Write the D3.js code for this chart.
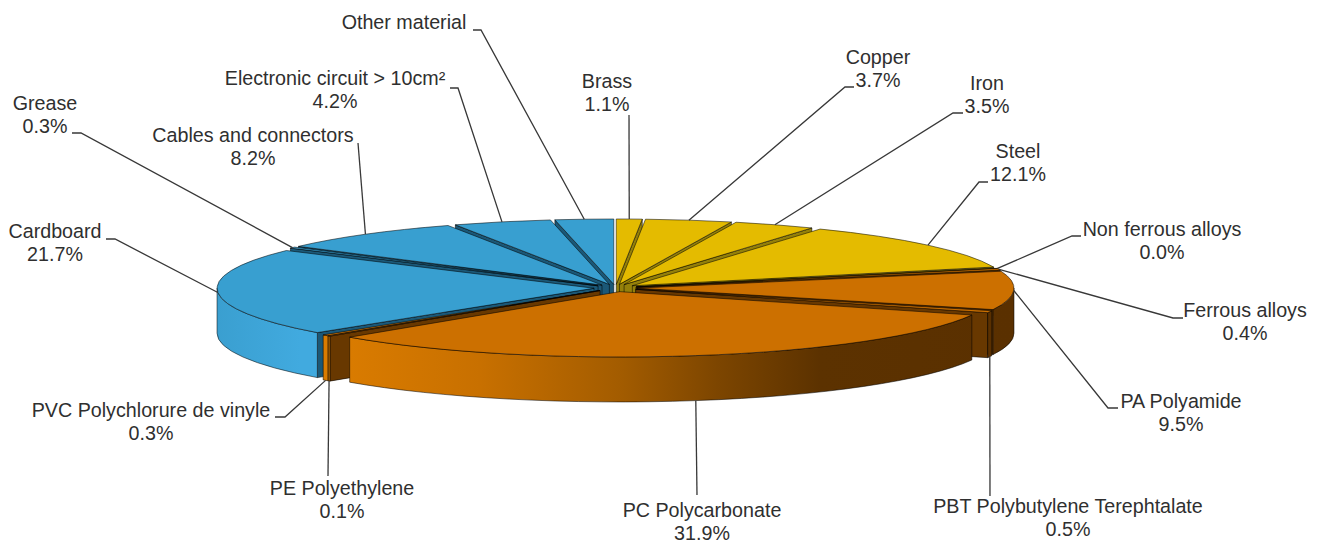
<!DOCTYPE html>
<html>
<head>
<meta charset="utf-8">
<script src="https://d3js.org/d3.v7.min.js"></script>
<style>
  html, body { margin: 0; padding: 0; background: #fff; }
  svg { display: block; }
  text { font-family: "Liberation Sans", Arial, sans-serif; font-size: 19.7px; fill: #2f2f2f; text-anchor: middle; }
</style>
</head>
<body>
<script>
// data, clockwise from 12 o'clock
var categories = ["Brass", "Copper", "Iron", "Steel", "Non ferrous alloys", "Ferrous alloys",
  "PA Polyamide", "PBT Polybutylene Terephtalate", "PC Polycarbonate", "PE Polyethylene",
  "PVC Polychlorure de vinyle", "Cardboard", "Grease", "Cables and connectors",
  "Electronic circuit > 10cm²", "Other material"];
var values = [1.1, 3.7, 3.5, 12.1, 0.04, 0.4, 9.5, 0.5, 31.9, 0.1, 0.3, 21.7, 0.3, 8.2, 4.2, 2.5];
var groups = ["metal", "metal", "metal", "metal", "metal", "plastic", "plastic", "plastic", "plastic",
  "plastic", "plastic", "paper", "paper", "paper", "paper", "paper"];
var noValueLabel = ["Other material"];

// label layout: centre x, first baseline, then the leader elbow and its stub end
var labelX = [607, 878, 987, 1018, 1162, 1245, 1181, 1068, 702, 342, 151, 55, 45, 253, 335, 404];
var labelY = [88, 64, 90, 158, 236, 317, 408, 513, 517, 495, 417, 238, 110, 142, 85, 29];
var elbows = [[629, 115], [845, 87], [953, 113], [979, 182], [1072, 236], [1173, 318], [1108, 408], [990, 496],
  [697, 495], [328, 476], [285, 417], [115, 239], [81, 133], [358, 143], [458, 88], [481, 30]];
var stubs = [null, [854, 87], [963, 113], [988, 182], [1081, 236], [1183, 318], [1118, 408], null,
  null, null, [275, 417], [106, 239], [72, 133], null, [450, 88], [473, 30]];

var width = 1320, height = 543;
var cx = 615.5, cy = 288, rx = 377, ry = 65.3, explode = 21.5, depth = 45;
var lineGap = 23;
var yRatio = ry / rx;

var topColor = { metal: "#e4bb00", plastic: "#cc7000", paper: "#389fd0" };
var wallColor = { metal: "#94800a", plastic: "#683800", paper: "#1b5877" };

var svg = d3.select("body").append("svg").attr("width", width).attr("height", height);

var defs = svg.append("defs");
function rimGradient(id, stops) {
  var g = defs.append("linearGradient").attr("id", id).attr("gradientUnits", "userSpaceOnUse")
    .attr("x1", 217).attr("x2", 1014).attr("y1", 0).attr("y2", 0);
  stops.forEach(function(s) {
    g.append("stop").attr("offset", (s[0] - 217) / 797).attr("stop-color", s[1]);
  });
  return "url(#" + id + ")";
}
var rimColor = {
  metal: rimGradient("rimMetal", [[217, "#e4bb00"], [1014, "#6a5800"]]),
  plastic: rimGradient("rimPlastic", [[217, "#de7e00"], [350, "#d97b00"], [480, "#c87000"], [620, "#a35c00"],
    [720, "#7c4500"], [820, "#5c3200"], [1014, "#5a3000"]]),
  paper: rimGradient("rimPaper", [[217, "#3a9fd0"], [300, "#41aadf"], [1014, "#41aadf"]])
};

var pie = d3.pie().sort(null).startAngle(0).endAngle(2 * Math.PI);
var slices = pie(values).map(function(d, i) {
  var mid = (d.startAngle + d.endAngle) / 2;
  return {
    i: i, a0: d.startAngle, a1: d.endAngle, mid: mid, group: groups[i],
    ox: cx + explode * Math.sin(mid),
    oy: cy - explode * yRatio * Math.cos(mid)
  };
});

function rimPoint(s, a) {
  return [s.ox + rx * Math.sin(a), s.oy - ry * Math.cos(a)];
}

// side of the slice along the outer edge, only the part that faces the viewer
function rimPath(s) {
  var a = Math.max(s.a0, Math.PI / 2), b = Math.min(s.a1, 3 * Math.PI / 2);
  if (b <= a) return null;
  var p = rimPoint(s, a), q = rimPoint(s, b);
  return "M" + p + "A" + rx + "," + ry + " 0 0 1 " + q +
    "L" + q[0] + "," + (q[1] + depth) +
    "A" + rx + "," + ry + " 0 0 0 " + p[0] + "," + (p[1] + depth) + "Z";
}

function wallPath(s, a) {
  var p = rimPoint(s, a);
  return "M" + s.ox + "," + s.oy + "L" + p + "L" + p[0] + "," + (p[1] + depth) +
    "L" + s.ox + "," + (s.oy + depth) + "Z";
}

var topArc = d3.arc().innerRadius(0).outerRadius(rx);

// back slices first, front slices paint over them
var pieLayer = svg.append("g");
var order = slices.slice().sort(function(a, b) { return Math.cos(b.mid) - Math.cos(a.mid); });

order.forEach(function(s) {
  var g = pieLayer.append("g");
  var edge = "rgba(0,0,0,0.65)";
  // radial walls: start wall faces us on the left half, end wall on the right half
  if (Math.sin(s.a0) < 0) {
    g.append("path").attr("d", wallPath(s, s.a0)).attr("fill", wallColor[s.group])
      .attr("stroke", edge).attr("stroke-width", 0.8);
  }
  if (Math.sin(s.a1) > 0) {
    g.append("path").attr("d", wallPath(s, s.a1)).attr("fill", wallColor[s.group])
      .attr("stroke", edge).attr("stroke-width", 0.8);
  }
  var rim = rimPath(s);
  if (rim) {
    g.append("path").attr("d", rim).attr("fill", rimColor[s.group])
      .attr("stroke", edge).attr("stroke-width", 0.8);
  }
  g.append("path")
    .attr("d", topArc({ startAngle: s.a0, endAngle: s.a1 }))
    .attr("transform", "translate(" + s.ox + "," + s.oy + ") scale(1," + yRatio + ")")
    .attr("fill", topColor[s.group])
    .attr("stroke", edge).attr("stroke-width", 0.8)
    .attr("vector-effect", "non-scaling-stroke");
});

// leaders start at the rim, on the lower edge for the slices at the front
var line = d3.line();
svg.append("g").selectAll("path")
  .data(slices)
  .enter().append("path")
    .attr("d", function(s) {
      var a = rimPoint(s, s.mid);
      if (Math.cos(s.mid) < -0.2) a = [a[0], a[1] + depth];
      var pts = [a, elbows[s.i]];
      if (stubs[s.i]) pts.push(stubs[s.i]);
      return line(pts);
    })
    .attr("fill", "none")
    .attr("stroke", "#383838")
    .attr("stroke-width", 1.3);

var fmt = function(v) { return d3.format(".1f")(v) + "%"; };
var labels = svg.append("g").selectAll("g")
  .data(slices)
  .enter().append("g");
labels.append("text")
  .attr("x", function(s) { return labelX[s.i]; })
  .attr("y", function(s) { return labelY[s.i]; })
  .text(function(s) { return categories[s.i]; });
labels.filter(function(s) { return noValueLabel.indexOf(categories[s.i]) < 0; })
  .append("text")
  .attr("x", function(s) { return labelX[s.i]; })
  .attr("y", function(s) { return labelY[s.i] + lineGap; })
  .text(function(s) { return fmt(values[s.i]); });
</script>
</body>
</html>
